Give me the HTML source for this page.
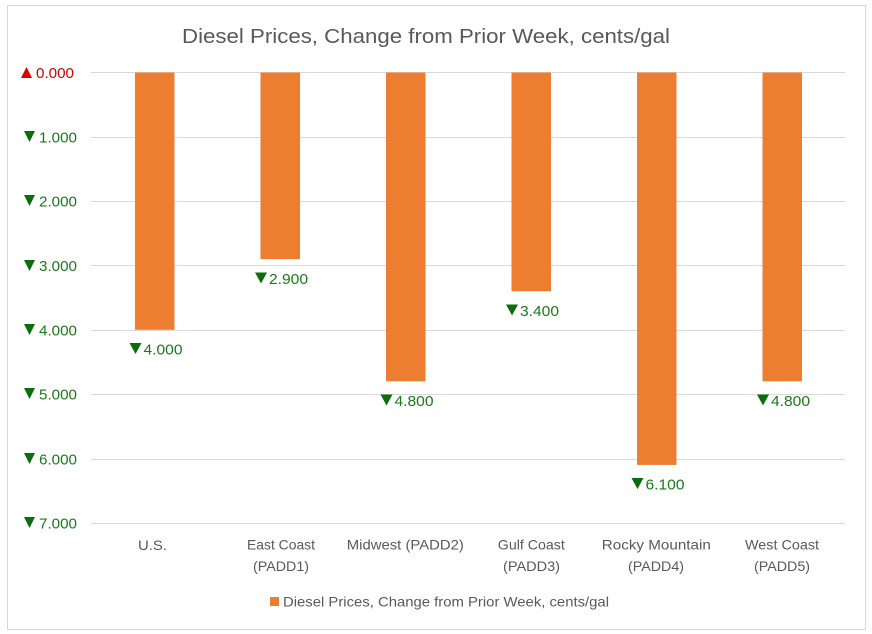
<!DOCTYPE html>
<html>
<head>
<meta charset="utf-8">
<style>
html,body{margin:0;padding:0;background:#fff;}
svg{display:block;}
text{font-family:"Liberation Sans",Arial,sans-serif;}
</style>
</head>
<body>
<svg width="872" height="634" viewBox="0 0 872 634" xmlns="http://www.w3.org/2000/svg">
<rect x="0" y="0" width="872" height="634" fill="#fff"/>
<rect x="7.5" y="5.5" width="858" height="624" fill="#fff" stroke="#d9d9d9" stroke-width="1"/>

<!-- Title -->
<text x="182" y="43" font-size="20.5" fill="#595959" textLength="488" lengthAdjust="spacingAndGlyphs">Diesel Prices, Change from Prior Week, cents/gal</text>

<!-- Gridlines -->
<g stroke="#d9d9d9" stroke-width="1">
<line x1="91" y1="72.5" x2="845" y2="72.5"/>
<line x1="91" y1="137.5" x2="845" y2="137.5"/>
<line x1="91" y1="201.5" x2="845" y2="201.5"/>
<line x1="91" y1="265.5" x2="845" y2="265.5"/>
<line x1="91" y1="330.5" x2="845" y2="330.5"/>
<line x1="91" y1="394.5" x2="845" y2="394.5"/>
<line x1="91" y1="459.5" x2="845" y2="459.5"/>
<line x1="91" y1="523.5" x2="845" y2="523.5"/>
</g>

<!-- Y axis labels -->
<polygon points="21,78 32,78 26.5,67" fill="#e00000"/>
<text x="36" y="78" font-size="15" fill="#d00000" textLength="38" lengthAdjust="spacingAndGlyphs">0.000</text>
<g fill="#0b6e0b">
<polygon points="24,131 35,131 29.5,142"/>
<polygon points="24,195 35,195 29.5,206"/>
<polygon points="24,260 35,260 29.5,271"/>
<polygon points="24,324 35,324 29.5,335"/>
<polygon points="24,388 35,388 29.5,399"/>
<polygon points="24,453 35,453 29.5,464"/>
<polygon points="24,517 35,517 29.5,528"/>
</g>
<g font-size="15" fill="#1a7a1a">
<text x="39" y="142.5" textLength="38" lengthAdjust="spacingAndGlyphs">1.000</text>
<text x="39" y="206.5" textLength="38" lengthAdjust="spacingAndGlyphs">2.000</text>
<text x="39" y="271" textLength="38" lengthAdjust="spacingAndGlyphs">3.000</text>
<text x="39" y="335.5" textLength="38" lengthAdjust="spacingAndGlyphs">4.000</text>
<text x="39" y="399.5" textLength="38" lengthAdjust="spacingAndGlyphs">5.000</text>
<text x="39" y="464.5" textLength="38" lengthAdjust="spacingAndGlyphs">6.000</text>
<text x="39" y="528.5" textLength="38" lengthAdjust="spacingAndGlyphs">7.000</text>
</g>

<!-- Bars -->
<g fill="#ed7d31">
<rect x="135" y="72.5" width="39.5" height="257.3"/>
<rect x="260.5" y="72.5" width="39.5" height="186.6"/>
<rect x="386" y="72.5" width="39.5" height="308.8"/>
<rect x="511.5" y="72.5" width="39.5" height="218.7"/>
<rect x="637" y="72.5" width="39.5" height="392.4"/>
<rect x="762.5" y="72.5" width="39.5" height="308.8"/>
</g>

<!-- Data labels -->
<g fill="#0b6e0b">
<polygon points="129.5,343 141.5,343 135.5,354"/>
<polygon points="255,272.5 267,272.5 261,283.5"/>
<polygon points="380.5,394.5 392.5,394.5 386.5,405.5"/>
<polygon points="506,304.5 518,304.5 512,315.5"/>
<polygon points="631.5,478 643.5,478 637.5,489"/>
<polygon points="757,394.5 769,394.5 763,405.5"/>
</g>
<g font-size="15" fill="#1a7a1a">
<text x="143.5" y="354.5" textLength="39" lengthAdjust="spacingAndGlyphs">4.000</text>
<text x="269" y="284" textLength="39" lengthAdjust="spacingAndGlyphs">2.900</text>
<text x="394.5" y="406" textLength="39" lengthAdjust="spacingAndGlyphs">4.800</text>
<text x="520" y="316" textLength="39" lengthAdjust="spacingAndGlyphs">3.400</text>
<text x="645.5" y="489.5" textLength="39" lengthAdjust="spacingAndGlyphs">6.100</text>
<text x="771" y="406" textLength="39" lengthAdjust="spacingAndGlyphs">4.800</text>
</g>

<!-- Category labels -->
<g font-size="14" fill="#595959" text-anchor="middle">
<text x="152.5" y="550" textLength="29" lengthAdjust="spacingAndGlyphs">U.S.</text>
<text x="281" y="549.5" textLength="68" lengthAdjust="spacingAndGlyphs">East Coast</text>
<text x="281" y="571" textLength="56" lengthAdjust="spacingAndGlyphs">(PADD1)</text>
<text x="405.3" y="549.5" textLength="117" lengthAdjust="spacingAndGlyphs">Midwest (PADD2)</text>
<text x="531.3" y="549.5" textLength="67" lengthAdjust="spacingAndGlyphs">Gulf Coast</text>
<text x="531.5" y="571" textLength="57" lengthAdjust="spacingAndGlyphs">(PADD3)</text>
<text x="656.3" y="549.5" textLength="109" lengthAdjust="spacingAndGlyphs">Rocky Mountain</text>
<text x="656" y="571" textLength="56" lengthAdjust="spacingAndGlyphs">(PADD4)</text>
<text x="782" y="549.5" textLength="74" lengthAdjust="spacingAndGlyphs">West Coast</text>
<text x="782" y="571" textLength="56" lengthAdjust="spacingAndGlyphs">(PADD5)</text>
</g>

<!-- Legend -->
<rect x="270" y="597" width="9" height="9" fill="#ed7d31"/>
<text x="283" y="606.5" font-size="14" fill="#595959" textLength="326" lengthAdjust="spacingAndGlyphs">Diesel Prices, Change from Prior Week, cents/gal</text>
</svg>
</body>
</html>
